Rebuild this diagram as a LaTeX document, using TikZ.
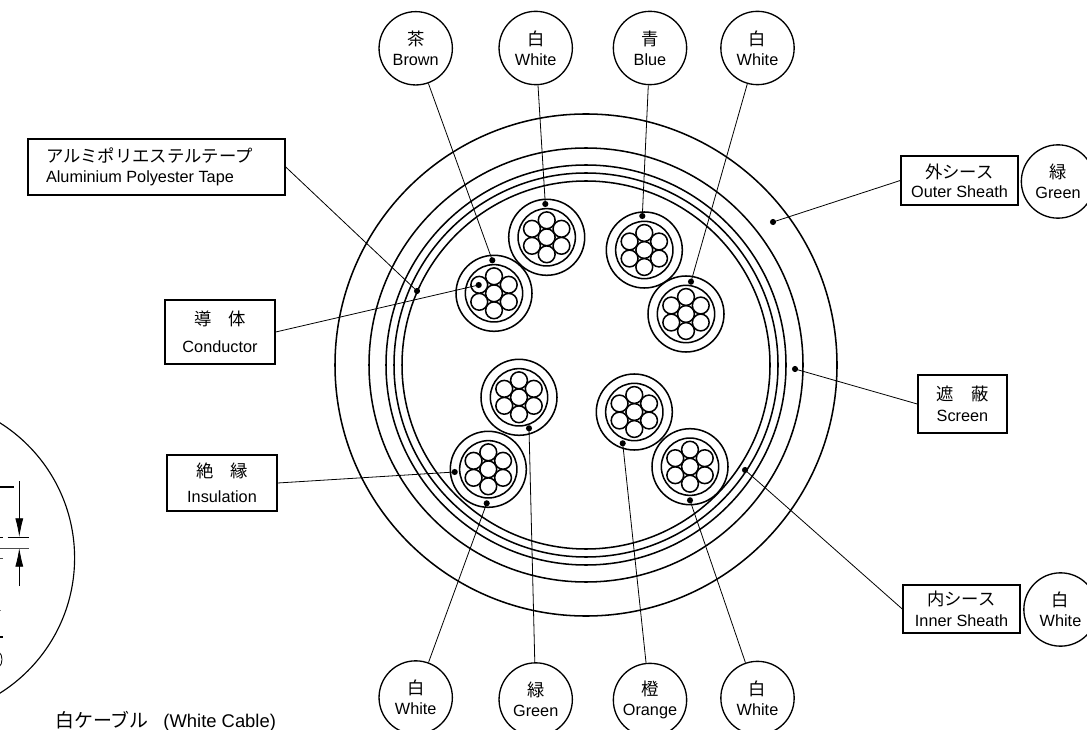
\documentclass[tikz,border=0pt]{standalone}
\usepackage{fontspec}
\setmainfont{Liberation Sans}
\newfontfamily\jp{Noto Sans CJK JP}
\usetikzlibrary{arrows.meta}
\newcommand{\en}{\fontsize{12.2}{16}\selectfont}
\newcommand{\ja}{\fontsize{13}{16}\selectfont\jp}
\tikzstyle{bubble}=[circle,draw,fill=white,line width=1pt,minimum size=55pt,inner sep=0pt,align=center]
\tikzstyle{labelbox}=[rectangle,draw,fill=white,line width=1.1pt,inner sep=0pt,align=center]
\tikzstyle{sheath}=[circle,draw,line width=1.15pt,minimum size=57pt,inner sep=0pt]
\tikzstyle{insul}=[circle,draw,line width=1.15pt,minimum size=43pt,inner sep=0pt]
\tikzstyle{strand}=[draw,line width=1.15pt,fill=white]
\tikzstyle{ring}=[draw,line width=1.15pt]
\tikzstyle{blob}=[circle,fill=black,minimum size=4.6pt,inner sep=0pt]
\tikzstyle{leader}=[draw,line width=.6pt]
\tikzstyle{dimtip}=[draw,line width=.6pt,-{Latex[length=14pt,width=6pt]}]

\begin{document}
\begin{tikzpicture}[x=.75pt,y=-.75pt]
	\useasboundingbox (0,0) rectangle (1087,730);
	% rings of the cable
	\foreach \rad in {251,217,200,192,184}
		\path[ring] (586,365) circle (\rad);
	% cores with their strands
	\foreach \pos/\name in {{(494,293.3)/brown}, {(546.7,237.3)/whiteA}, {(644.3,250)/blue},
	                        {(686,314)/whiteB}, {(519,397.3)/green}, {(488.3,469.3)/whiteC},
	                        {(634.3,412)/orange}, {(690,466.7)/whiteD}}
	{
		\node[sheath] (\name) at \pos {};
		\node[insul] at \pos {};
		\path[strand] \pos circle (8.4);
		\foreach \ang in {30,90,...,330}
			\path[strand] (\name.center) ++(\ang:17) circle (8.4);
	}
	% left detail
	\path[draw,line width=.85pt] (-85,558) circle (159.6);
	\coordinate (dimtop) at (19.3,481);
	\coordinate (dimA) at (19.3,537);
	\coordinate (dimbot) at (19.3,586);
	\coordinate (dimB) at (19.3,548);
	\path[dimtip] (dimtop) -- (dimA);
	\path[dimtip] (dimbot) -- (dimB);
	\path[draw,line width=1.1pt] (-1,487) -- (14,487);
	\path[leader] (-1,537) -- (3,537);
	\path[leader] (7.5,537) -- (29,537);
	\path[leader,black!70] (-1,548) -- (29,548);
	\path[leader,black!70] (-1,558) -- (3,558);
	\path[leader,black!50] (-1,610) -- (1,610);
	\path[draw,line width=1.8pt] (-1,637) -- (2.5,637);
	\path[leader] (-1,652) .. controls (3,655) and (3,664) .. (-1,667);
	% dots
	\foreach \pos/\name in {{(492.3,260.3)/dbrown}, {(545.3,204)/dwhiteA}, {(642.3,216)/dblue},
	                        {(691,281.7)/dwhiteB}, {(529,428.3)/dgreen}, {(486.7,503.3)/dwhiteC},
	                        {(622.7,443.3)/dorange}, {(690,500.3)/dwhiteD}, {(478.7,285)/dcond},
	                        {(454.7,472)/dinsul}, {(417,291)/dtape}, {(773,222)/douter},
	                        {(795,369)/dscreen}, {(745,470)/dinner}}
		\node[blob] (\name) at \pos {};
	% colour bubbles
	\foreach \pos/\name/\ctext/\etext in {{(415.7,48.3)/bbrown/茶/Brown}, {(535.7,48)/bwhiteA/白/White},
	                        {(650,48)/bblue/青/Blue}, {(757.5,48)/bwhiteB/白/White},
	                        {(415.7,697.5)/bwhiteC/白/White}, {(535.7,699.5)/bgreen/緑/Green},
	                        {(650,700)/borange/橙/Orange}, {(757.5,698)/bwhiteD/白/White},
	                        {(1058,181.5)/bouter/緑/Green}, {(1060.5,609.5)/binner/白/White}}
		\node[bubble] (\name) at \pos {{\ja \ctext}\\[3pt]{\en \etext}};
	% label boxes
	\node[labelbox,inner xsep=13.5pt,text width=165.75pt,minimum height=42pt,align=left] (tape) at (156.5,167)
		{{\ja アルミポリエステルテープ}\\[3pt]{\en Aluminium Polyester Tape}};
	\node[labelbox,minimum width=82.5pt,minimum height=48pt] (cond) at (220,332) {{\ja 導　体}\\[8pt]{\en Conductor}};
	\node[labelbox,minimum width=82.5pt,minimum height=42pt] (insu) at (222,483) {{\ja 絶　縁}\\[6.5pt]{\en Insulation}};
	\node[labelbox,minimum width=87.75pt,minimum height=37pt] (outer) at (959.5,180.5) {{\ja 外シース}\\[2pt]{\en Outer Sheath}};
	\node[labelbox,minimum width=66.75pt,minimum height=43.5pt] (screen) at (962.5,404) {{\ja 遮　蔽}\\[4pt]{\en Screen}};
	\node[labelbox,minimum width=87.75pt,minimum height=36pt] (inner) at (961.5,609) {{\ja 内シース}\\[4pt]{\en Inner Sheath}};
	% leaders
	\foreach \source/\dest in {bbrown/dbrown, bwhiteA/dwhiteA, bblue/dblue, bwhiteB/dwhiteB,
	                           bgreen/dgreen, bwhiteC/dwhiteC, borange/dorange, bwhiteD/dwhiteD}
		\path[leader] (\source) -- (\dest.center);
	\path[leader] (tape.east) -- (dtape.center);
	\path[leader] (cond.east) -- (dcond.center);
	\path[leader] (insu.east) -- (dinsul.center);
	\path[leader] (outer.west) -- (douter.center);
	\path[leader] (screen.west) -- (dscreen.center);
	\path[leader] (inner.west) -- (dinner.center);
	% caption
	\node[anchor=west,inner sep=0pt] (caption) at (55,721)
		{{\fontsize{14.2}{16}\selectfont\jp 白ケーブル}\hspace{11pt}{\fontsize{13.8}{16}\selectfont (White Cable)}};
\end{tikzpicture}
\end{document}
